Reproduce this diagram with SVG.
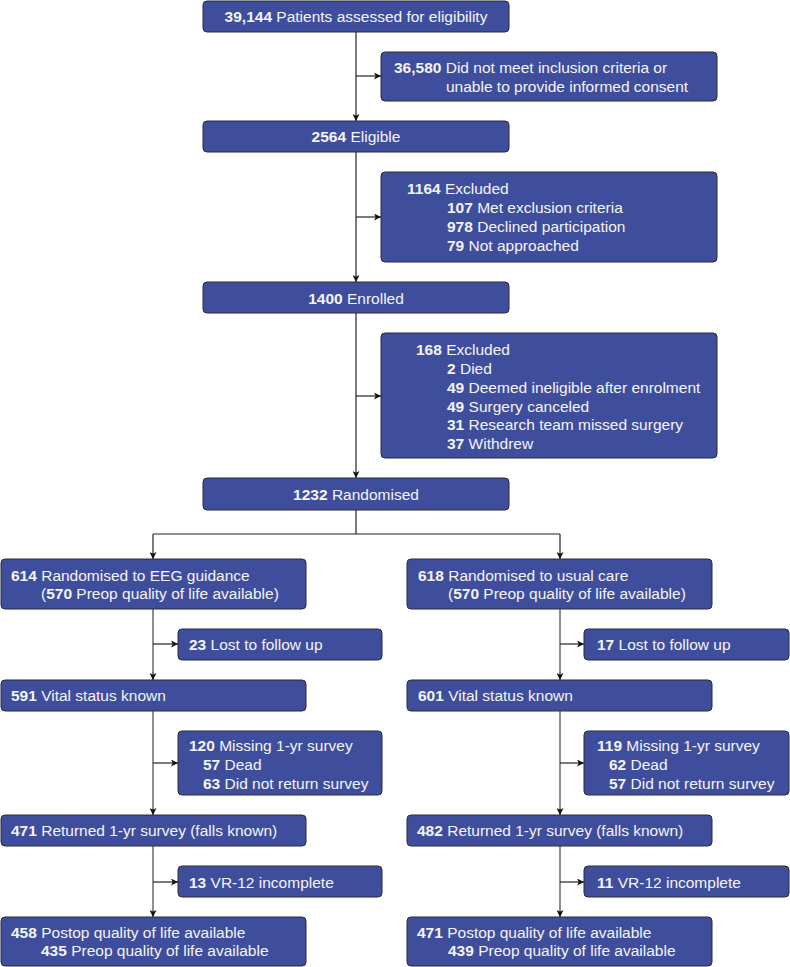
<svg xmlns="http://www.w3.org/2000/svg" width="790" height="967" viewBox="0 0 790 967">
<defs>
<marker id="ah" viewBox="0 0 10 10" refX="10" refY="5" markerWidth="8" markerHeight="7" markerUnits="userSpaceOnUse" orient="auto">
<path d="M0,0 L10,5 L0,10 L2.5,5 z" fill="#111"/>
</marker>
<style>
.box{fill:#3f4e9c;stroke:#2a2a3a;stroke-width:1}
text{font-family:"Liberation Sans",Arial,sans-serif;font-size:15.5px;fill:#f4f4f8}
.b{font-weight:bold}
.c{text-anchor:middle}
.ln{stroke:#222;stroke-width:1.2;fill:none}
.lg{stroke:#6a6a6a;stroke-width:1.5;fill:none}
.ar{stroke:#222;stroke-width:1.2;fill:none;marker-end:url(#ah)}
</style>
</defs>
<rect width="790" height="967" fill="#fff"/>
<g id="connectors">
<path class="ar" d="M356,32 V121"/>
<path class="ar" d="M356,76 H381"/>
<path class="ar" d="M356,152 V282"/>
<path class="ar" d="M356,217 H381"/>
<path class="ar" d="M356,313 V478"/>
<path class="ar" d="M356,396 H381"/>
<path class="ln" d="M356,510 V534 M153,534 H560"/>
<path class="ar" d="M153,534 V559"/>
<path class="ar" d="M560,534 V559"/>
<path class="lg" d="M153,609 V672 M153,711 V808 M153,846 V910"/>
<path class="ar" d="M153,672 V680"/>
<path class="ar" d="M153,808 V815"/>
<path class="ar" d="M153,910 V917"/>
<path class="ar" d="M153,644 H178"/>
<path class="ar" d="M153,763 H178"/>
<path class="ar" d="M153,882 H178"/>
<path class="lg" d="M560,609 V672 M560,711 V808 M560,846 V910"/>
<path class="ar" d="M560,672 V680"/>
<path class="ar" d="M560,808 V815"/>
<path class="ar" d="M560,910 V917"/>
<path class="ar" d="M560,644 H584"/>
<path class="ar" d="M560,763 H584"/>
<path class="ar" d="M560,882 H584"/>
</g>
<g id="assessed">
<rect class="box" x="203" y="1" width="306" height="31" rx="4"/>
<text class="c" x="356" y="22"><tspan class="b">39,144</tspan> Patients assessed for eligibility</text>
</g>
<g id="notmeet">
<rect class="box" x="381" y="52" width="336" height="49" rx="4"/>
<text x="394" y="73"><tspan class="b">36,580</tspan> Did not meet inclusion criteria or</text>
<text x="446" y="92">unable to provide informed consent</text>
</g>
<g id="eligible">
<rect class="box" x="203" y="121" width="306" height="31" rx="4"/>
<text class="c" x="356" y="142"><tspan class="b">2564</tspan> Eligible</text>
</g>
<g id="excluded1">
<rect class="box" x="381" y="172" width="336" height="90" rx="4"/>
<text x="407" y="194"><tspan class="b">1164</tspan> Excluded</text>
<text x="447" y="213"><tspan class="b">107</tspan> Met exclusion criteria</text>
<text x="447" y="232"><tspan class="b">978</tspan> Declined participation</text>
<text x="447" y="251"><tspan class="b">79</tspan> Not approached</text>
</g>
<g id="enrolled">
<rect class="box" x="203" y="282" width="306" height="31" rx="4"/>
<text class="c" x="356" y="304"><tspan class="b">1400</tspan> Enrolled</text>
</g>
<g id="excluded2">
<rect class="box" x="381" y="333" width="336" height="125" rx="4"/>
<text x="416" y="355"><tspan class="b">168</tspan> Excluded</text>
<text x="447" y="374"><tspan class="b">2</tspan> Died</text>
<text x="447" y="393"><tspan class="b">49</tspan> Deemed ineligible after enrolment</text>
<text x="447" y="412"><tspan class="b">49</tspan> Surgery canceled</text>
<text x="447" y="430"><tspan class="b">31</tspan> Research team missed surgery</text>
<text x="447" y="449"><tspan class="b">37</tspan> Withdrew</text>
</g>
<g id="randomised">
<rect class="box" x="203" y="478" width="306" height="32" rx="4"/>
<text class="c" x="356" y="500"><tspan class="b">1232</tspan> Randomised</text>
</g>
<g id="eeg">
<rect class="box" x="1" y="559" width="305" height="50" rx="4"/>
<text x="11" y="581"><tspan class="b">614</tspan> Randomised to EEG guidance</text>
<text x="41" y="599">(<tspan class="b">570</tspan> Preop quality of life available)</text>
</g>
<g id="usual">
<rect class="box" x="407" y="559" width="305" height="50" rx="4"/>
<text x="418" y="581"><tspan class="b">618</tspan> Randomised to usual care</text>
<text x="448" y="599">(<tspan class="b">570</tspan> Preop quality of life available)</text>
</g>
<g id="lost-l">
<rect class="box" x="178" y="629" width="204" height="31" rx="4"/>
<text x="189" y="650"><tspan class="b">23</tspan> Lost to follow up</text>
</g>
<g id="lost-r">
<rect class="box" x="584" y="629" width="205" height="31" rx="4"/>
<text x="597" y="650"><tspan class="b">17</tspan> Lost to follow up</text>
</g>
<g id="vital-l">
<rect class="box" x="1" y="680" width="305" height="31" rx="4"/>
<text x="11" y="701"><tspan class="b">591</tspan> Vital status known</text>
</g>
<g id="vital-r">
<rect class="box" x="407" y="680" width="305" height="31" rx="4"/>
<text x="418" y="701"><tspan class="b">601</tspan> Vital status known</text>
</g>
<g id="missing-l">
<rect class="box" x="178" y="731" width="204" height="64" rx="4"/>
<text x="189" y="751"><tspan class="b">120</tspan> Missing 1-yr survey</text>
<text x="203" y="770"><tspan class="b">57</tspan> Dead</text>
<text x="203" y="789"><tspan class="b">63</tspan> Did not return survey</text>
</g>
<g id="missing-r">
<rect class="box" x="584" y="731" width="205" height="64" rx="4"/>
<text x="597" y="751"><tspan class="b">119</tspan> Missing 1-yr survey</text>
<text x="609" y="770"><tspan class="b">62</tspan> Dead</text>
<text x="609" y="789"><tspan class="b">57</tspan> Did not return survey</text>
</g>
<g id="returned-l">
<rect class="box" x="1" y="815" width="305" height="31" rx="4"/>
<text x="11" y="836"><tspan class="b">471</tspan> Returned 1-yr survey (falls known)</text>
</g>
<g id="returned-r">
<rect class="box" x="407" y="815" width="305" height="31" rx="4"/>
<text x="417" y="836"><tspan class="b">482</tspan> Returned 1-yr survey (falls known)</text>
</g>
<g id="vr-l">
<rect class="box" x="178" y="866" width="204" height="31" rx="4"/>
<text x="189" y="888"><tspan class="b">13</tspan> VR-12 incomplete</text>
</g>
<g id="vr-r">
<rect class="box" x="584" y="866" width="205" height="31" rx="4"/>
<text x="597" y="888"><tspan class="b">11</tspan> VR-12 incomplete</text>
</g>
<g id="postop-l">
<rect class="box" x="1" y="917" width="305" height="49" rx="4"/>
<text x="11" y="938"><tspan class="b">458</tspan> Postop quality of life available</text>
<text x="41" y="956"><tspan class="b">435</tspan> Preop quality of life available</text>
</g>
<g id="postop-r">
<rect class="box" x="407" y="917" width="305" height="49" rx="4"/>
<text x="417" y="938"><tspan class="b">471</tspan> Postop quality of life available</text>
<text x="448" y="956"><tspan class="b">439</tspan> Preop quality of life available</text>
</g>
</svg>
